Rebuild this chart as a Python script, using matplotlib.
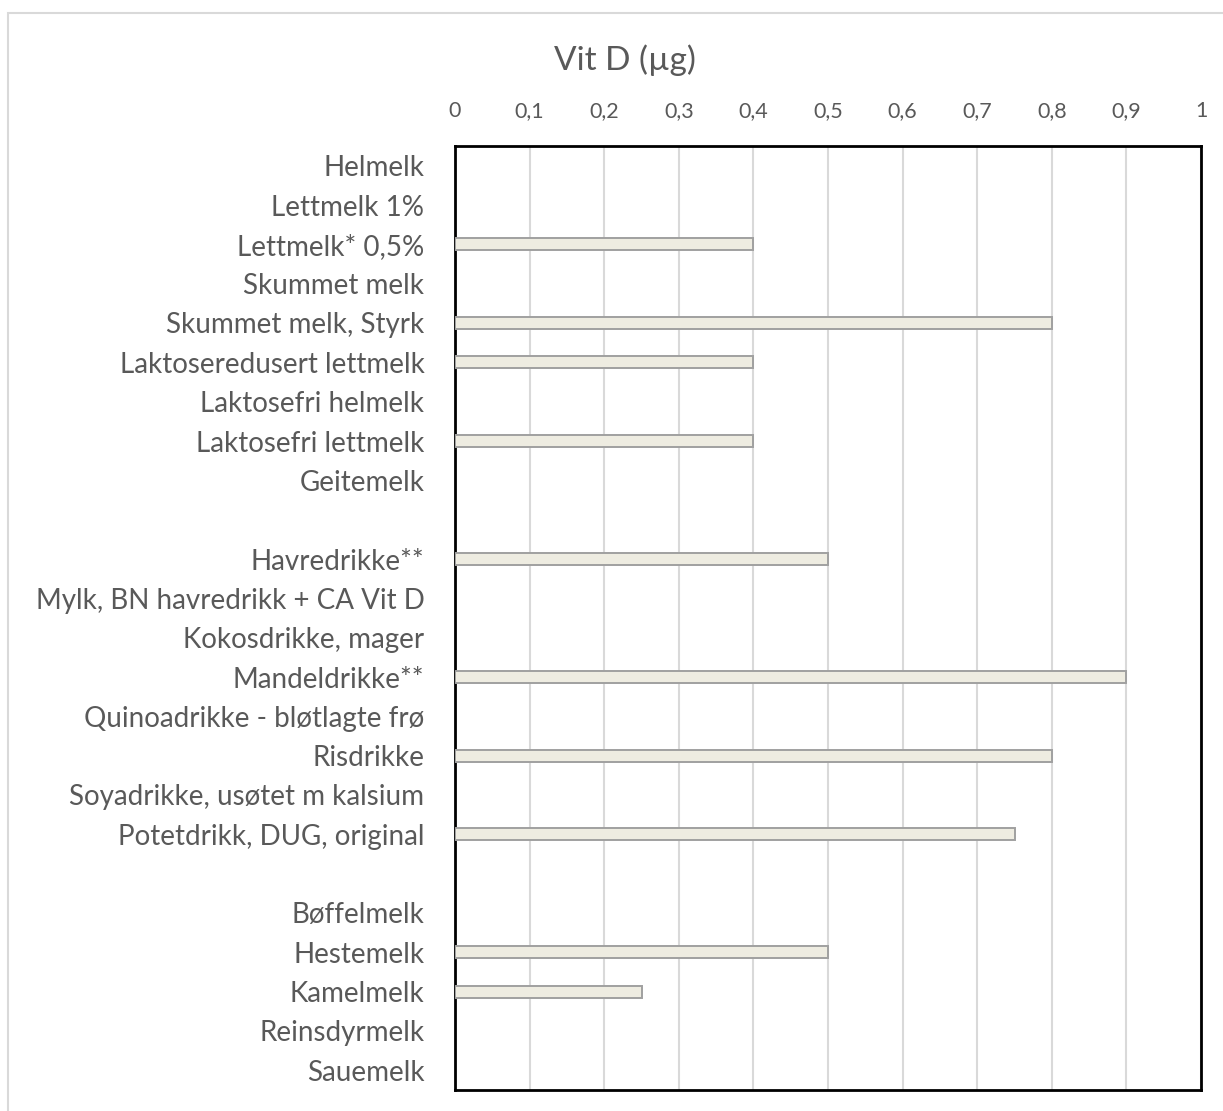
import matplotlib.pyplot as plt
from matplotlib.patches import Rectangle
import numpy as np

plt.rcParams["font.family"] = ["Lato", "DejaVu Sans"]

# Blank strings are the spacer rows between the groups
categories = [
    "Helmelk", "Lettmelk 1%", "Lettmelk* 0,5%", "Skummet melk",
    "Skummet melk, Styrk", "Laktoseredusert lettmelk", "Laktosefri helmelk",
    "Laktosefri lettmelk", "Geitemelk", "",
    "Havredrikke**", "Mylk, BN havredrikk + CA Vit D", "Kokosdrikke, mager",
    "Mandeldrikke**", "Quinoadrikke - bløtlagte frø", "Risdrikke",
    "Soyadrikke, usøtet m kalsium", "Potetdrikk, DUG, original", "",
    "Bøffelmelk", "Hestemelk", "Kamelmelk", "Reinsdyrmelk", "Sauemelk",
]
nan = np.nan
vit_d = [
    nan, nan, 0.4, nan, 0.8, 0.4, nan, 0.4, nan, nan,
    0.5, nan, nan, 0.9, nan, 0.8, nan, 0.75, nan,
    nan, 0.5, 0.25, nan, nan,
]
x_ticks = np.round(np.arange(0, 1.01, 0.1), 1)
x_tick_labels = ["0" if t == 0 else ("1" if t == 1 else f"{t:.1f}".replace(".", ",")) for t in x_ticks]

text_grey = "#595959"

fig = plt.figure(figsize=(12.23, 11.11), dpi=100)
# chart area frame, runs off the right and bottom edges
fig.patches.append(Rectangle((8 / 1223, -0.01), 1, 1 - 13 / 1111 + 0.01,
                             transform=fig.transFigure, fill=False,
                             edgecolor="#D9D9D9", linewidth=1.5))

ax = fig.add_axes([455 / 1223, 1 - 1090 / 1111, (1201 - 455) / 1223, (1090 - 146) / 1111])

y_pos = np.arange(len(categories))
ax.barh(y_pos, vit_d, height=0.3, color="#EEECE1", edgecolor="#A0A0A0",
        linewidth=1.4, zorder=3)

ax.set_xlim(0, 1)
ax.set_ylim(len(categories) - 0.5, -0.5)
ax.set_xticks(x_ticks)
ax.set_xticklabels(x_tick_labels)
ax.set_yticks(y_pos)
ax.set_yticklabels(categories)

ax.xaxis.tick_top()
ax.tick_params(axis="x", length=0, pad=18, labelsize=15.5, labelcolor=text_grey)
ax.tick_params(axis="y", length=0, pad=22, labelsize=20, labelcolor=text_grey)

ax.grid(axis="x", color="#D9D9D9", linewidth=1.5, zorder=0)
ax.set_axisbelow(True)
for spine in ax.spines.values():
    spine.set_color("black")
    spine.set_linewidth(2)

fig.text(625 / 1223, 1 - 60 / 1111, "Vit D (µg)", ha="center", va="center",
         fontsize=24, color=text_grey)

fig.savefig("out.png", dpi=100)
